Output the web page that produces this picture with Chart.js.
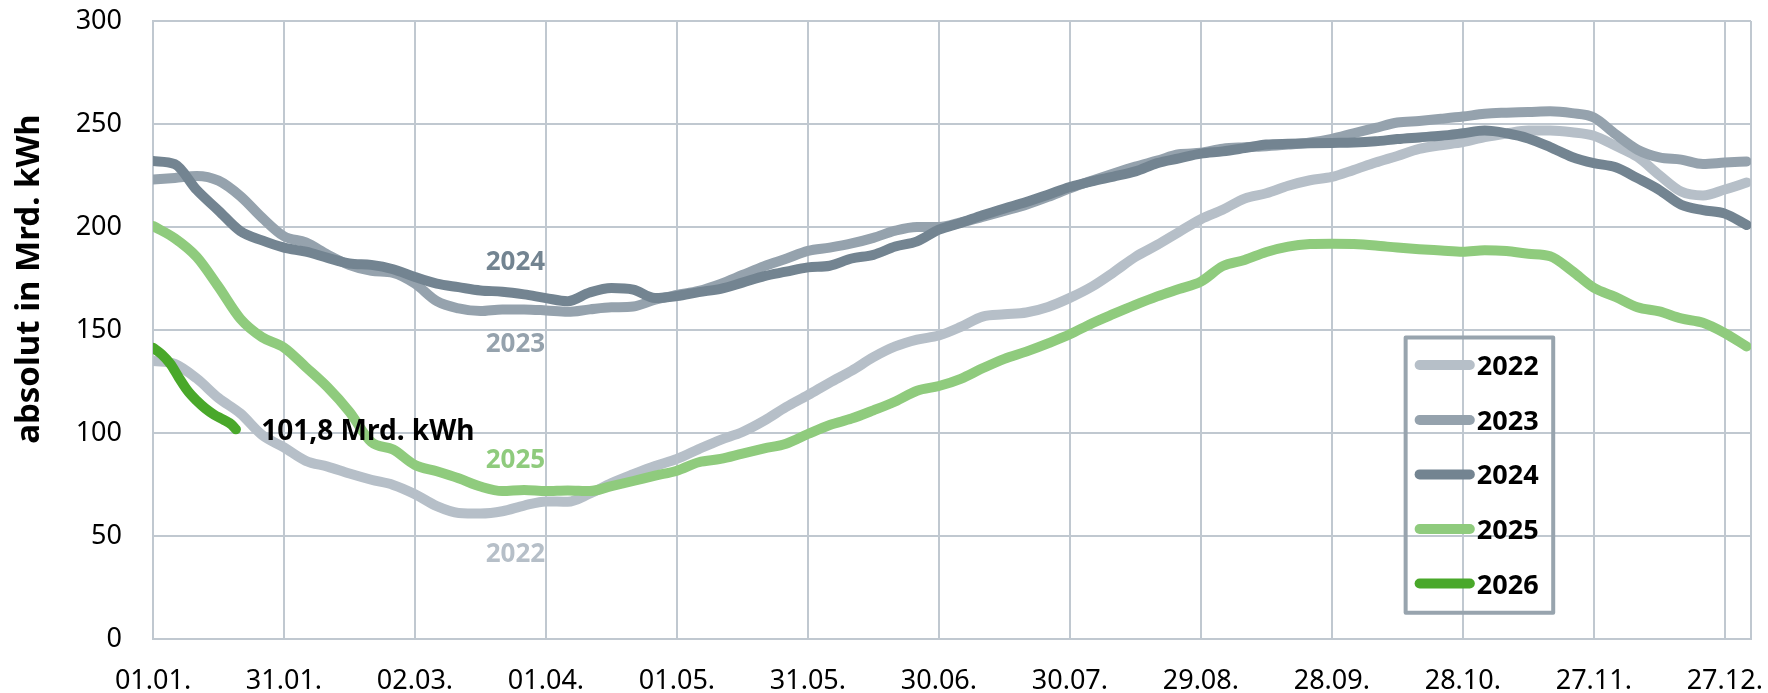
<!DOCTYPE html>
<html lang="de">
<head>
<meta charset="UTF-8">
<title>Gasspeicher Füllstand absolut</title>
<script src="https://cdn.jsdelivr.net/npm/chart.js@4.4.1/dist/chart.umd.min.js"></script>
<style>
  html, body { margin: 0; padding: 0; background: #fff; }
  #wrap { width: 1768px; height: 693px; position: relative; }
</style>
</head>
<body>
<div id="wrap"><canvas id="chart"></canvas></div>
<script>
// Tag im Jahr (0 = 01.01.)
const days = [0, 5, 10, 15, 20, 25, 30, 35, 40, 45, 50, 55, 60, 65, 70, 75, 80, 85, 90, 95,
  100, 105, 110, 115, 120, 125, 130, 135, 140, 145, 150, 155, 160, 165, 170, 175, 180, 185, 190, 195,
  200, 205, 210, 215, 220, 225, 230, 235, 240, 245, 250, 255, 260, 265, 270, 275, 280, 285, 290, 295,
  300, 305, 310, 315, 320, 325, 330, 335, 340, 345, 350, 355, 360, 365];

const tickDays = [0, 30, 60, 90, 120, 150, 180, 210, 240, 270, 300, 330, 360];
const tickLabels = ['01.01.', '31.01.', '02.03.', '01.04.', '01.05.', '31.05.', '30.06.',
  '30.07.', '29.08.', '28.09.', '28.10.', '27.11.', '27.12.'];

// Speicherinhalt in Mrd. kWh
const v2022 = [135, 133.5, 126.5, 117, 109.5, 99, 93, 86.5, 83.7, 80.3, 77.3, 74.8, 70.3, 64.5, 61.2, 60.9, 62, 64.8, 66.8, 66.6,
  70.5, 75.7, 80, 84, 87.4, 92.2, 96.7, 100.5, 106, 112.6, 118.4, 124.5, 130.2, 136.8, 142, 145.3, 147.3, 151.5, 156.5, 157.6,
  158.5, 161.2, 165.6, 171, 178, 185.5, 191.3, 197.6, 203.8, 208.4, 213.8, 216.4, 220, 222.7, 224.3, 227.7, 231.3, 234.5, 237.9, 239.7,
  241.2, 243.6, 245.4, 246.8, 246.8, 246, 244.3, 239.4, 234, 225.2, 217.2, 215.3, 218.2, 221.6];
const v2023 = [223, 223.8, 224.8, 222.5, 215, 204.5, 195.5, 192.5, 186.6, 181.5, 178.7, 177.7, 172.5, 164, 160.5, 159.2, 160, 160, 159.5, 158.8,
  160, 161, 161.4, 164.7, 167, 169, 172.4, 176.7, 181, 184.6, 188.4, 190, 192, 194.7, 198.2, 200, 200, 202.2, 204.9, 207.8,
  210.8, 214.6, 218.8, 222.5, 226, 229.3, 232.2, 235.3, 236, 238, 238.7, 239.2, 240, 241, 242.8, 245.5, 248.1, 250.7, 251.5, 252.5,
  253.6, 255, 255.5, 255.8, 256.2, 255.3, 253.2, 245, 237.5, 233.8, 232.7, 230.6, 231.3, 231.8];
const v2024 = [232, 230.5, 218, 208, 198, 193.5, 190, 188, 185, 182.3, 181.6, 179.5, 175.7, 172.5, 170.8, 169.2, 168.6, 167.3, 165.5, 164,
  168.2, 170.4, 169.6, 165.5, 166.5, 168.4, 170, 173, 176.2, 178.3, 180.4, 181.2, 184.7, 186.5, 190.5, 193, 198.7, 202, 205.7, 209,
  212.1, 215.7, 219.4, 222.2, 224.5, 227, 231, 233.3, 235.6, 236.7, 238.3, 240, 240.4, 240.6, 240.8, 241, 241.6, 242.7, 243.5, 244.3,
  245.5, 246.8, 245.5, 243, 238.8, 234, 231, 229, 223.7, 218, 210.8, 208.2, 206.5, 201];
const v2025 = [200.5, 194.5, 185.5, 171, 155.5, 146.5, 141.5, 132, 122.2, 110.3, 95.6, 92, 84.5, 81.4, 78, 74, 71.8, 72.3, 71.8, 72.1,
  71.8, 74.2, 76.7, 79.3, 81.7, 85.8, 87.4, 90, 92.5, 94.8, 99.5, 103.9, 107, 111, 115.3, 120.5, 122.8, 126.3, 131.4, 136,
  139.5, 143.5, 147.9, 153.2, 157.8, 162.2, 166.3, 169.9, 173.5, 181, 184, 187.9, 190.5, 191.7, 191.9, 191.7, 191, 190, 189.2, 188.6,
  188, 188.7, 188.3, 187, 185.8, 178.7, 170.5, 166, 161, 159, 155.6, 153.5, 148.5, 142];
const days2026 = [0, 2, 4, 6, 8, 10, 12, 14, 16, 18, 19];
const v2026 = [141.4, 138.2, 133.5, 126.6, 120.3, 115.7, 111.9, 108.9, 106.6, 104.1, 101.8];

const years = ['2022', '2023', '2024', '2025', '2026'];
const colors = ['#b6bfc8', '#95a2ad', '#738491', '#8fcb7d', '#49a82a'];
const GRID = '#c0c8d0';
const LINE_W = 10;

function pts(xs, ys) { return xs.map((d, i) => ({ x: d, y: ys[i] })); }

// Beschriftungen im Diagramm und Legende
const annotations = {
  id: 'annotations',
  afterDatasetsDraw(chart) {
    const { ctx, scales: { x, y } } = chart;
    ctx.save();
    ctx.textBaseline = 'alphabetic';

    // Jahreszahlen an den Kurven
    ctx.font = 'bold 26px "Noto Sans"';
    ctx.textAlign = 'center';
    [['2024', 178.9, 2], ['2023', 139.3, 1], ['2025', 83, 3], ['2022', 37.4, 0]].forEach(([t, v, c]) => {
      ctx.fillStyle = colors[c];
      ctx.fillText(t, x.getPixelForValue(83), y.getPixelForValue(v));
    });

    // aktueller Wert
    ctx.font = 'bold 28px "Noto Sans"';
    ctx.textAlign = 'left';
    ctx.fillStyle = '#000';
    ctx.fillText('101,8 Mrd. kWh', x.getPixelForValue(24.8), y.getPixelForValue(96.6));

    // Legende
    const bx0 = x.getPixelForValue(286.9), bx1 = x.getPixelForValue(320.7);
    const by0 = y.getPixelForValue(146.4), by1 = y.getPixelForValue(12.8);
    ctx.strokeStyle = '#98a4ae';
    ctx.lineWidth = 4;
    ctx.lineJoin = 'round';
    ctx.strokeRect(bx0, by0, bx1 - bx0, by1 - by0);
    const rows = [133, 106.3, 79.9, 53.4, 26.9];
    ctx.font = 'bold 27px "Noto Sans"';
    ctx.textAlign = 'left';
    years.forEach((yr, i) => {
      const ry = y.getPixelForValue(rows[i]);
      ctx.strokeStyle = colors[i];
      ctx.lineWidth = LINE_W;
      ctx.lineCap = 'round';
      ctx.beginPath();
      ctx.moveTo(x.getPixelForValue(290.1), ry);
      ctx.lineTo(x.getPixelForValue(301.6), ry);
      ctx.stroke();
      ctx.fillStyle = '#000';
      ctx.fillText(yr, x.getPixelForValue(303.2), ry + 10);
    });
    ctx.restore();
  }
};

// Achsentitel
const yTitle = {
  id: 'yTitle',
  afterDraw(chart) {
    const { ctx } = chart;
    ctx.save();
    ctx.translate(39, 279);
    ctx.rotate(-Math.PI / 2);
    ctx.font = 'bold 33px "Noto Sans"';
    ctx.textAlign = 'center';
    ctx.textBaseline = 'alphabetic';
    ctx.fillStyle = '#000';
    ctx.fillText('absolut in Mrd. kWh', 0, 0);
    ctx.restore();
  }
};

const seriesData = [pts(days, v2022), pts(days, v2023), pts(days, v2024), pts(days, v2025), pts(days2026, v2026)];

function noPad(s) {
  s.paddingTop = 0; s.paddingBottom = 0; s.paddingLeft = 0; s.paddingRight = 0;
}

new Chart(document.getElementById('chart'), {
  type: 'line',
  data: {
    datasets: years.map((yr, i) => ({
      label: yr,
      data: seriesData[i],
      borderColor: colors[i],
      backgroundColor: colors[i],
      order: 5 - i
    }))
  },
  options: {
    responsive: true,
    maintainAspectRatio: false,
    animation: false,
    devicePixelRatio: 1,
    layout: { padding: { top: 21, right: 17, bottom: 0, left: 0 } },
    plugins: { legend: { display: false }, tooltip: { enabled: false } },
    elements: {
      point: { radius: 0 },
      line: { borderWidth: LINE_W, borderCapStyle: 'round', borderJoinStyle: 'round', cubicInterpolationMode: 'monotone' }
    },
    scales: {
      x: {
        type: 'linear',
        min: 0,
        max: 366,
        afterBuildTicks: s => { s.ticks = tickDays.concat([366]).map(v => ({ value: v })); },
        afterFit: s => { s.height = 54; noPad(s); },
        grid: { color: GRID, lineWidth: 2, drawTicks: false },
        border: { color: GRID, width: 2 },
        ticks: {
          autoSkip: false,
          maxRotation: 0,
          padding: 26,
          color: '#000',
          font: { family: 'Noto Sans', size: 27 },
          callback: v => { const i = tickDays.indexOf(v); return i >= 0 ? tickLabels[i] : ''; }
        }
      },
      y: {
        min: 0,
        max: 300,
        afterFit: s => { s.width = 153; noPad(s); },
        grid: { color: GRID, lineWidth: 2, drawTicks: false },
        border: { color: GRID, width: 2 },
        ticks: {
          stepSize: 50,
          padding: 31,
          color: '#000',
          font: { family: 'Noto Sans', size: 27 }
        }
      }
    }
  },
  plugins: [annotations, yTitle]
});
</script>
</body>
</html>
